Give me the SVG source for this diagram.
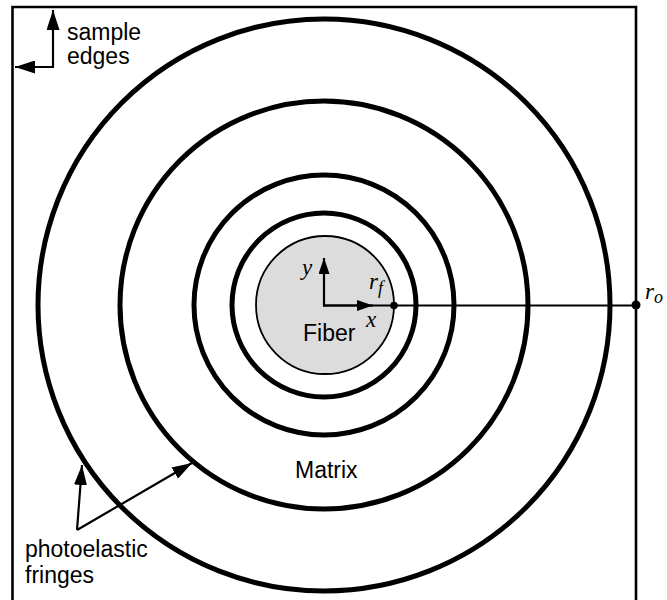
<svg xmlns="http://www.w3.org/2000/svg" width="667" height="600" viewBox="0 0 667 600">
<style>
.lbl{font-family:"Liberation Sans",Arial,sans-serif;font-size:23px;fill:#000}
.math{font-family:"Liberation Serif","Times New Roman",serif;font-style:italic;font-size:23px;fill:#000}
.ring{fill:none;stroke:#000;stroke-width:5}
.ln{fill:none;stroke:#000;stroke-width:2.2}
</style>
<defs>
<marker id="big" markerUnits="userSpaceOnUse" markerWidth="20" markerHeight="13" refX="20" refY="6.5" orient="auto" viewBox="0 0 20 13">
<path d="M0,0 L20,6.5 L0,13 z" fill="#000"/>
</marker>
<marker id="small" markerUnits="userSpaceOnUse" markerWidth="16" markerHeight="11" refX="16" refY="5.5" orient="auto" viewBox="0 0 16 11">
<path d="M0,0 L16,5.5 L0,11 z" fill="#000"/>
</marker>
</defs>
<rect width="667" height="600" fill="#fff"/>
<g id="sample-box"><path d="M12.5,605 V7 H636 V605" fill="none" stroke="#000" stroke-width="2.6"/></g>
<g id="fringes">
<circle class="ring" cx="324" cy="305" r="286"/>
<circle class="ring" cx="324" cy="305" r="204"/>
<circle class="ring" cx="324" cy="305" r="130"/>
<circle class="ring" cx="324" cy="305" r="92"/>
</g>
<g id="fiber"><circle cx="325" cy="305" r="69" fill="#dcdcdc" stroke="#000" stroke-width="1.8"/>
<text class="lbl" x="303" y="341">Fiber</text></g>
<g id="connectors">
<line class="ln" x1="324" y1="305.5" x2="636" y2="305.5"/>
<line class="ln" x1="324" y1="306.5" x2="324" y2="258" marker-end="url(#small)"/>
<line class="ln" x1="323" y1="305.5" x2="373" y2="305.5" marker-end="url(#small)"/>
<polyline class="ln" points="53,67 53,10"  marker-end="url(#big)"/>
<line class="ln" x1="54" y1="67" x2="15" y2="67" marker-end="url(#big)"/>
<line class="ln" x1="77" y1="530" x2="82" y2="465" marker-end="url(#big)"/>
<line class="ln" x1="77" y1="530" x2="192" y2="463" marker-end="url(#big)"/>
<circle cx="394" cy="305.5" r="3.8" fill="#000"/>
<circle cx="636" cy="305" r="4.5" fill="#000"/>
</g>
<g id="labels">
<text class="lbl" x="67" y="40">sample</text>
<text class="lbl" x="67" y="64">edges</text>
<text class="lbl" x="25" y="557">photoelastic</text>
<text class="lbl" x="25" y="583">fringes</text>
<text class="lbl" x="295" y="478">Matrix</text>
<text class="math" x="302" y="275">y</text>
<text class="math" x="366" y="327">x</text>
<text class="math" x="369" y="289">r<tspan font-size="18" dy="5">f</tspan></text>
<text class="math" x="645" y="299">r<tspan font-size="18" dy="4">o</tspan></text>
</g>
</svg>
